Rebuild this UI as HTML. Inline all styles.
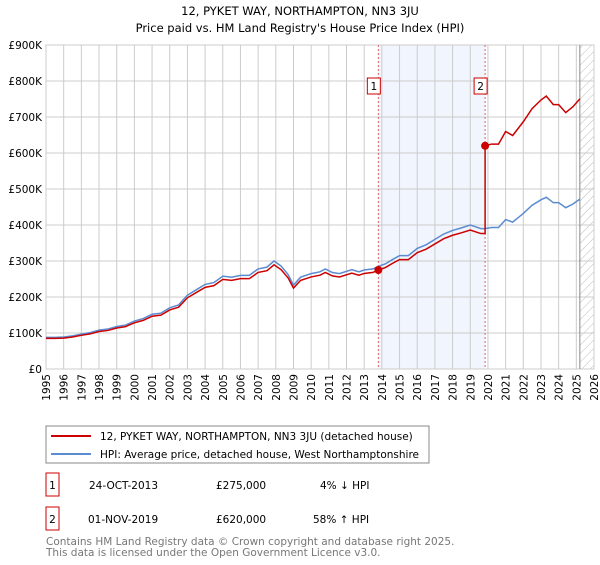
<!DOCTYPE html>
<html><head><meta charset="utf-8"><style>
body{margin:0;background:#fff;font-family:"Liberation Sans","DejaVu Sans",sans-serif;}
</style></head><body>
<svg width="600" height="560" xmlns="http://www.w3.org/2000/svg" font-family="DejaVu Sans, Liberation Sans, sans-serif">
<defs><pattern id="hatch" width="6" height="6" patternUnits="userSpaceOnUse" patternTransform="rotate(45)"><line x1="0" y1="0" x2="0" y2="6" stroke="#bbb" stroke-width="1"/></pattern></defs>
<text x="300" y="15" text-anchor="middle" font-size="11.5">12, PYKET WAY, NORTHAMPTON, NN3 3JU</text>
<text x="300" y="32" text-anchor="middle" font-size="11.5">Price paid vs. HM Land Registry's House Price Index (HPI)</text>
<g id="plot"></g>
<g id="legend">
<rect x="46" y="426" width="383" height="37" fill="#fff" stroke="#888"/>
<line x1="51" y1="436" x2="91" y2="436" stroke="#cc0000" stroke-width="2"/>
<text x="100" y="440" font-size="10.5">12, PYKET WAY, NORTHAMPTON, NN3 3JU (detached house)</text>
<line x1="51" y1="454" x2="91" y2="454" stroke="#5b8bd0" stroke-width="2"/>
<text x="100" y="458" font-size="10.5">HPI: Average price, detached house, West Northamptonshire</text>
</g>
<g font-size="10.5">
<rect x="46" y="473" width="13" height="23" fill="#fff" stroke="#cc0000"/><text x="52.5" y="489" text-anchor="middle">1</text>
<text x="89" y="489">24-OCT-2013</text><text x="216" y="489">£275,000</text><text x="320" y="489">4% ↓ HPI</text>
<rect x="46" y="507" width="13" height="23" fill="#fff" stroke="#cc0000"/><text x="52.5" y="523" text-anchor="middle">2</text>
<text x="88" y="523">01-NOV-2019</text><text x="216" y="523">£620,000</text><text x="313" y="523">58% ↑ HPI</text>
</g>
<text x="46" y="545" font-size="10.5" fill="#777">Contains HM Land Registry data © Crown copyright and database right 2025.</text>
<text x="46" y="556" font-size="10.5" fill="#777">This data is licensed under the Open Government Licence v3.0.</text>
</svg>
<script>
const hpiYears=[1995,1995.5,1996,1996.5,1997,1997.5,1998,1998.5,1999,1999.5,2000,2000.5,2001,2001.5,2002,2002.5,2003,2003.5,2004,2004.5,2005,2005.5,2006,2006.5,2007,2007.5,2007.9,2008.3,2008.7,2009.0,2009.4,2010,2010.5,2010.8,2011.2,2011.6,2012.3,2012.7,2013,2013.5,2013.8,2014.2,2014.6,2015,2015.5,2016,2016.5,2017,2017.5,2018,2018.5,2019,2019.3,2019.6,2019.84,2020.2,2020.6,2021,2021.4,2021.7,2022,2022.5,2023,2023.3,2023.7,2024,2024.4,2024.8,2025.2];
const hpiValues=[88,88,89,92,97,101,108,111,118,122,133,140,152,155,170,178,205,220,235,240,258,255,260,260,278,283,300,286,262,233,255,265,270,278,268,265,276,270,275,278,285,292,304,315,315,335,345,360,375,385,392,400,395,390,390,393,393,415,408,420,432,455,470,477,462,462,448,458,472];
const sale1Year=2013.8, sale1Value=275, sale2Year=2019.84, sale2Value=620;
const yTicks=[0,100,200,300,400,500,600,700,800,900];
const yTickLabels=["£0","£100K","£200K","£300K","£400K","£500K","£600K","£700K","£800K","£900K"];
const xTicks=[1995,1996,1997,1998,1999,2000,2001,2002,2003,2004,2005,2006,2007,2008,2009,2010,2011,2012,2013,2014,2015,2016,2017,2018,2019,2020,2021,2022,2023,2024,2025,2026];
const X0=46,X1=594,Y0=369,Y1=45;
const xs=y=>X0+(y-1995)/(2026-1995)*(X1-X0);
const ys=v=>Y0-v/900*(Y0-Y1);
const NS="http://www.w3.org/2000/svg";
const g=document.getElementById('plot');
function mk(t,a,p){const e=document.createElementNS(NS,t);for(const k in a)e.setAttribute(k,a[k]);(p||g).appendChild(e);return e;}
const sh=mk('rect',{x:xs(sale1Year),y:Y1,width:xs(sale2Year)-xs(sale1Year),height:Y0-Y1,fill:'#eef3fc',opacity:0.8});


const ht=mk('rect',{x:xs(2025.2),y:Y1,width:X1-xs(2025.2),height:Y0-Y1,fill:'url(#hatch)'});


yTicks.forEach((v,i)=>{
 const l=mk('line',{x1:X0,x2:X1,y1:ys(v),y2:ys(v),stroke:'#ccc'});
 
 
 const t=mk('text',{x:X0-4,y:ys(v)+4,'text-anchor':'end','font-size':10.5});
 
 
 t.textContent=yTickLabels[i];
});
xTicks.forEach(yr=>{
 const l=mk('line',{x1:xs(yr),x2:xs(yr),y1:Y1,y2:Y0,stroke:'#ccc'});
 
 
 const gg=mk('g',{transform:'translate('+(xs(yr)+4)+','+(Y0+5)+') rotate(-90)'});
 const t=mk('text',{x:0,y:0,'font-size':10.5,'text-anchor':'end'},gg);
 
 
 t.textContent=yr;
});
const fr=mk('rect',{x:X0,y:Y1,width:X1-X0,height:Y0-Y1,fill:'none',stroke:'#ccc'});


const nl=mk('line',{x1:xs(2025.2),x2:xs(2025.2),y1:Y1,y2:Y0,stroke:'#888'});


[sale1Year,sale2Year].forEach((yr,i)=>{
 const l=mk('line',{x1:xs(yr),x2:xs(yr),y1:Y1,y2:Y0,stroke:'#e06060','stroke-dasharray':'2,2'});
 
 
 const b=mk('rect',{x:xs(yr)-11,y:78,width:13,height:16,fill:'#fff',stroke:'#cc0000'});
 
 
 const t=mk('text',{x:xs(yr)-4.5,y:90,'text-anchor':'middle','font-size':10.5});
 
 
 t.textContent=i+1;
});
const hp=mk('polyline',{points:hpiYears.map((y,i)=>xs(y)+','+ys(hpiValues[i])).join(' '),fill:'none',stroke:'#5b8bd0','stroke-width':1.5});


function hpiAt(yr){for(let i=1;i<hpiYears.length;i++){if(yr<=hpiYears[i]){const t=(yr-hpiYears[i-1])/(hpiYears[i]-hpiYears[i-1]);return hpiValues[i-1]+t*(hpiValues[i]-hpiValues[i-1]);}}return hpiValues[hpiValues.length-1];}
const r1=sale1Value/hpiAt(sale1Year), r2=sale2Value/hpiAt(sale2Year);
const pts=[];
hpiYears.forEach((y,i)=>{
 if(y<sale2Year) pts.push([y,hpiValues[i]*r1]);
 else if(y===sale2Year){pts.push([y,hpiValues[i]*r1]);pts.push([y,sale2Value]);}
 else pts.push([y,hpiValues[i]*r2]);
});
const rp=mk('polyline',{points:pts.map(p=>xs(p[0])+','+ys(p[1])).join(' '),fill:'none',stroke:'#cc0000','stroke-width':1.5});


[[sale1Year,sale1Value],[sale2Year,sale2Value]].forEach(p=>{
 const c=mk('circle',{cx:xs(p[0]),cy:ys(p[1]),r:4,fill:'#cc0000'});
 
 
});
</script>
</body></html>
